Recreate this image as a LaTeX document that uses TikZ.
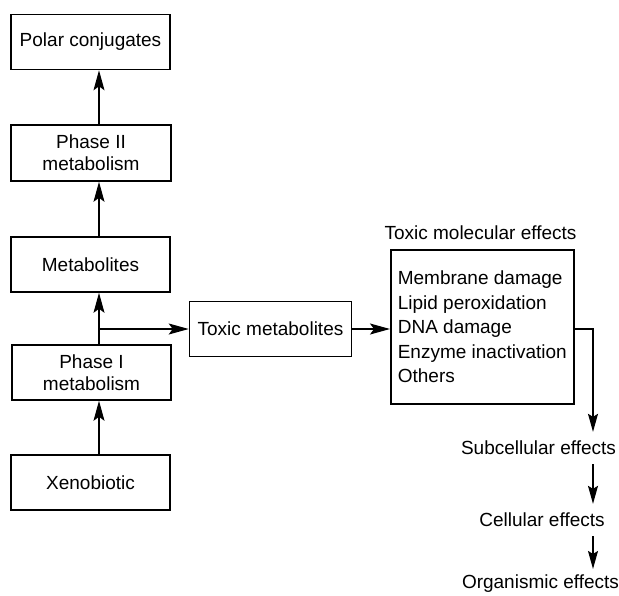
\documentclass[tikz,border=0pt]{standalone}
\usepackage{fontspec}
\setmainfont{Liberation Sans}
\usetikzlibrary{arrows.meta}

\begin{document}
\begin{tikzpicture}[x=1pt,y=-1pt]
\tikzstyle{every node}+=[inner sep=0pt, font=\fontsize{19}{22}\selectfont]
\tikzstyle{box}=[draw, line width=1.6pt, minimum width=159pt, minimum height=55pt, align=center]
\tikzstyle{arr}=[line width=1.2pt, -{Stealth[length=20pt,width=11pt,inset=4pt]}]
\tikzstyle{arrs}=[line width=1.2pt, -{Stealth[length=18pt,width=10pt,inset=3pt]}]
\tikzstyle{effect}=[inner ysep=9pt]
\useasboundingbox (0,0) rectangle (619,595);
% metabolism column
\node[box] (pol) at (90.5,42) {Polar conjugates};
\node[box, minimum width=160pt, minimum height=56pt] (ph2) at (91,153) {Phase II\\metabolism};
\node[box] (met) at (90.5,264.5) {Metabolites};
\node[box] (ph1) at (91.5,372.5) {Phase I\\metabolism};
\node[box] (xen) at (90.5,482.5) {Xenobiotic};
\node[box, minimum width=162pt] (toxm) at (270.5,329) {Toxic metabolites};
% toxic effects
\node (lbl) at (480.5,233) {Toxic molecular effects};
\node[box, anchor=north west, minimum width=183pt, minimum height=154pt, align=left,
  font=\fontsize{19}{24.5}\selectfont] (mol) at (390,249)
  {Membrane damage\\Lipid peroxidation\\DNA damage\\Enzyme inactivation\\Others};
\node[effect] (sub) at (538.5,448) {Subcellular effects};
\node[effect] (cel) at (542,520) {Cellular effects};
\node[effect, inner ysep=6pt] (org) at (540.5,584) {Organismic effects};
\coordinate (spine) at (99,0);
\coordinate (drop) at (593,0);
\draw[arr] (spine |- xen.north) -- (spine |- ph1.south);
\draw[arr] (spine |- ph1.north) -- (spine |- met.south);
\draw[arr] (spine |- met.north) -- (spine |- ph2.south);
\draw[arr] (spine |- ph2.north) -- (spine |- pol.south);
\draw[arr] (spine |- toxm.west) -- (toxm.west);
\draw[arr] (toxm.east) -- (toxm.east -| mol.west);
\draw[arrs] (mol.east |- toxm.east) -| (drop |- sub.north);
\draw[arrs] (drop |- sub.south) -- (drop |- cel.north);
\draw[arrs] (drop |- cel.south) -- (drop |- org.north);
\end{tikzpicture}
\end{document}
